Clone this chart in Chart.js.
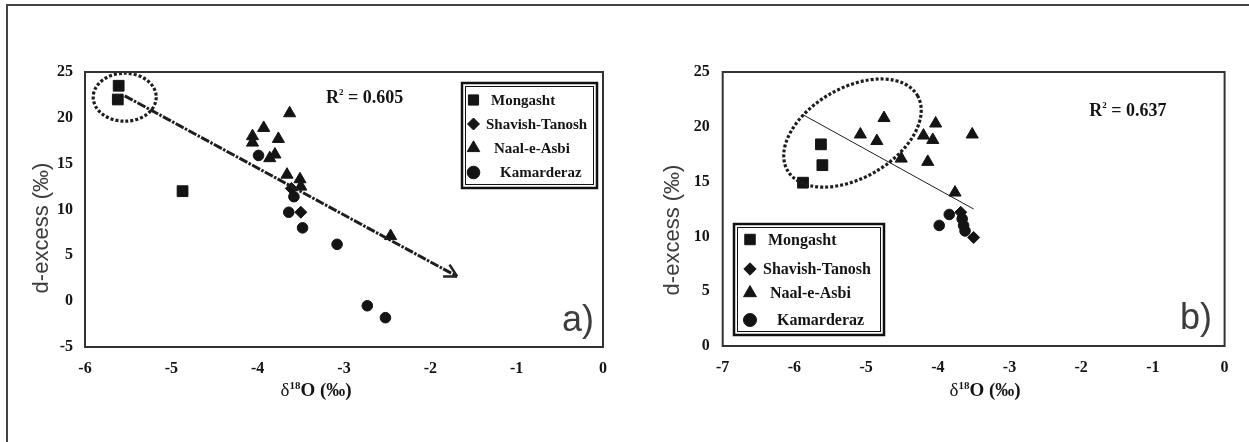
<!DOCTYPE html>
<html>
<head>
<meta charset="utf-8">
<script src="https://cdn.jsdelivr.net/npm/chart.js@4.4.1/dist/chart.umd.min.js"></script>
<style>
  html, body { margin: 0; padding: 0; background: #fff; }
  #wrap { position: relative; width: 1249px; height: 442px; overflow: hidden; background: #fff; }
  #frame { position: absolute; left: 6px; top: 4px; width: 1400px; height: 600px;
           border-top: 2px solid #444; border-left: 2px solid #444; }
  #ca { position: absolute; left: 0; top: 0; }
  #cb { position: absolute; left: 620px; top: 0; }
</style>
</head>
<body>
<div id="wrap">
  <div id="frame"></div>
  <canvas id="ca" width="620" height="442"></canvas>
  <canvas id="cb" width="629" height="442"></canvas>
</div>
<script>
// Sampling sites
const seriesNames = ['Mongasht', 'Shavish-Tanosh', 'Naal-e-Asbi', 'Kamarderaz'];

// Panel a) : d-excess against δ18O
const aMongashtX = [-5.61, -5.62, -4.87];
const aMongashtY = [23.5, 22.0, 12.0];
const aShavishX  = [-3.61, -3.50];
const aShavishY  = [12.3, 9.7];
const aNaalX     = [-3.63, -3.93, -4.06, -4.06, -3.76, -3.86, -3.80, -3.66, -3.51, -3.50, -2.46];
const aNaalY     = [20.5, 18.9, 18.0, 17.3, 17.7, 15.6, 16.0, 13.8, 13.3, 12.5, 7.1];
const aKamX      = [-3.99, -3.58, -3.64, -3.48, -3.08, -2.73, -2.52];
const aKamY      = [15.9, 11.4, 9.7, 8.0, 6.2, -0.5, -1.8];
const aTrendX    = [-5.54, -1.69];
const aTrendY    = [22.4, 2.7];
const aXTicks    = [-6, -5, -4, -3, -2, -1, 0];
const aYTicks    = [-5, 0, 5, 10, 15, 20, 25];
const aR2        = '0.605';
const aTag       = 'a)';

// Panel b) : d-excess against δ18O
const bMongashtX = [-5.63, -5.61, -5.88];
const bMongashtY = [18.4, 16.5, 14.9];
const bShavishX  = [-3.68, -3.50];
const bShavishY  = [12.2, 9.9];
const bNaalX     = [-5.08, -4.85, -4.75, -4.51, -4.20, -4.03, -4.07, -4.14, -3.52, -3.76];
const bNaalY     = [19.3, 18.7, 20.8, 17.1, 19.2, 20.3, 18.8, 16.8, 19.3, 14.0];
const bKamX      = [-3.98, -3.84, -3.66, -3.64, -3.62];
const bKamY      = [11.0, 12.0, 11.6, 11.0, 10.5];
const bTrendX    = [-5.88, -3.50];
const bTrendY    = [21.1, 12.5];
const bXTicks    = [-7, -6, -5, -4, -3, -2, -1, 0];
const bYTicks    = [0, 5, 10, 15, 20, 25];
const bR2        = '0.637';
const bTag       = 'b)';

const yTitle = 'd-excess (‰)';

const INK = '#141414';
const SERIF = '"Liberation Serif", "Times New Roman", serif';
const SANS = '"Liberation Sans", Arial, sans-serif';

function zip(xs, ys) { return xs.map((x, i) => ({ x: x, y: ys[i] })); }

const markerStyles = [
  { pointStyle: 'rect',     pointRadius: 7.6 },
  { pointStyle: 'rectRot',  pointRadius: 6 },
  { pointStyle: 'triangle', pointRadius: 7 },
  { pointStyle: 'circle',   pointRadius: 5.3 }
];

function drawMarker(ctx, style, radius, x, y) {
  ctx.fillStyle = INK; ctx.strokeStyle = INK;
  Chart.helpers.drawPoint(ctx, { pointStyle: style, radius: radius, rotation: 0, borderWidth: 1 }, x, y);
}

// Draws a run of text pieces (font, text, vertical shift) centred on cx
function drawRuns(ctx, runs, cx, baseY) {
  let w = 0;
  runs.forEach(r => { ctx.font = r.font; r.w = ctx.measureText(r.t).width; w += r.w; });
  let x = cx - w / 2;
  ctx.textAlign = 'left'; ctx.textBaseline = 'alphabetic';
  runs.forEach(r => { ctx.font = r.font; ctx.fillText(r.t, x, baseY + (r.dy || 0)); x += r.w; });
}

const decoPlugin = {
  id: 'deco',
  afterDraw(chart, args, o) {
    const ctx = chart.ctx, ca = chart.chartArea;
    const xs = chart.scales.x, ys = chart.scales.y;
    ctx.save();

    // trend arrowhead
    if (o.arrow) {
      const d = chart.data.datasets.find(ds => ds.isTrend).data;
      const x0 = xs.getPixelForValue(d[0].x), y0 = ys.getPixelForValue(d[0].y);
      const x1 = xs.getPixelForValue(d[1].x), y1 = ys.getPixelForValue(d[1].y);
      const ang = Math.atan2(y1 - y0, x1 - x0);
      ctx.beginPath();
      [-1, 1].forEach(s => {
        ctx.moveTo(x1, y1);
        ctx.lineTo(x1 - 14 * Math.cos(ang + s * 0.5), y1 - 14 * Math.sin(ang + s * 0.5));
      });
      ctx.lineWidth = 2.6; ctx.strokeStyle = '#222'; ctx.setLineDash([]); ctx.stroke();
    }

    // dotted grouping ellipse
    const e = o.ellipse;
    ctx.beginPath();
    ctx.ellipse(xs.getPixelForValue(e.x), ys.getPixelForValue(e.y), e.rx, e.ry,
                e.rot * Math.PI / 180, 0, Math.PI * 2);
    ctx.lineWidth = 3.2; ctx.setLineDash([3, 2]); ctx.strokeStyle = '#1e1e1e'; ctx.stroke();
    ctx.setLineDash([]);

    // plot frame
    ctx.lineWidth = 2; ctx.strokeStyle = '#333';
    ctx.strokeRect(ca.left, ca.top, ca.right - ca.left, ca.bottom - ca.top);

    // legend box
    const L = o.legend;
    ctx.fillStyle = '#fff';
    ctx.fillRect(L.x, L.y, L.w, L.h);
    ctx.lineWidth = 2.5; ctx.strokeStyle = '#111';
    ctx.strokeRect(L.x, L.y, L.w, L.h);
    ctx.lineWidth = 1;
    ctx.strokeRect(L.x + 3.5, L.y + 3.5, L.w - 7, L.h - 7);
    const items = chart.data.datasets.filter(ds => !ds.isTrend);
    items.forEach((ds, i) => {
      const row = L.rows[i];
      drawMarker(ctx, ds.pointStyle, L.markR[i], L.mx, row.y);
      ctx.fillStyle = INK;
      ctx.font = 'bold ' + L.font + 'px ' + SERIF;
      ctx.textAlign = 'left'; ctx.textBaseline = 'middle';
      ctx.fillText(ds.label, row.tx, row.y + 1);
    });

    // coefficient of determination
    ctx.fillStyle = INK;
    const rx = xs.getPixelForValue(o.r2.x), ry = ys.getPixelForValue(o.r2.y);
    drawRuns(ctx, [
      { t: 'R', font: 'bold 18px ' + SERIF },
      { t: '2', font: 'bold 9px ' + SERIF, dy: -8 },
      { t: ' = ' + o.r2.text, font: 'bold 18px ' + SERIF }
    ], rx, ry + 6);

    // panel tag
    ctx.fillStyle = '#3c3c3c';
    ctx.font = '36px ' + SANS;
    ctx.textAlign = 'right'; ctx.textBaseline = 'alphabetic';
    ctx.fillText(o.tag.text, o.tag.x, o.tag.y);

    // y axis title
    ctx.save();
    ctx.translate(o.yTitle.x, o.yTitle.y);
    ctx.rotate(-Math.PI / 2);
    ctx.fillStyle = '#3c3c3c';
    ctx.font = '22px ' + SANS;
    ctx.textAlign = 'center'; ctx.textBaseline = 'middle';
    ctx.fillText(yTitle, 0, 0);
    ctx.restore();

    // x axis title: δ18O (‰)
    ctx.fillStyle = INK;
    drawRuns(ctx, [
      { t: 'δ', font: '19px ' + SERIF },
      { t: '18', font: 'bold 11px ' + SERIF, dy: -7 },
      { t: 'O (‰)', font: 'bold 19px ' + SERIF }
    ], o.xTitle.x, o.xTitle.y + 6);

    ctx.restore();
  }
};

function panel(p) {
  const tickFont = { family: SERIF, weight: 'bold', size: 16 };
  const sets = [
    { label: 'trend', isTrend: true, data: zip(p.trendX, p.trendY), showLine: true,
      pointRadius: 0, borderColor: '#1e1e1e', borderWidth: p.trendWidth, borderDash: p.trendDash,
      fill: false },
    { label: seriesNames[0], data: zip(p.mX, p.mY) },
    { label: seriesNames[1], data: zip(p.sX, p.sY) },
    { label: seriesNames[2], data: zip(p.nX, p.nY) },
    { label: seriesNames[3], data: zip(p.kX, p.kY) }
  ];
  sets.slice(1).forEach((ds, i) => {
    Object.assign(ds, markerStyles[i], {
      backgroundColor: INK, borderColor: INK, borderWidth: 1, pointHoverRadius: markerStyles[i].pointRadius
    });
  });
  return {
    type: 'scatter',
    data: { datasets: sets },
    options: {
      responsive: false, animation: false, events: [],
      layout: { padding: { left: 0, top: p.top, right: p.right, bottom: 0 } },
      plugins: { legend: { display: false }, tooltip: { enabled: false }, deco: p.deco },
      scales: {
        x: {
          type: 'linear', min: p.xTicks[0], max: p.xTicks[p.xTicks.length - 1],
          afterBuildTicks: s => { s.ticks = p.xTicks.map(v => ({ value: v })); },
          afterFit: s => { s.height = p.xH; },
          grid: { display: false, drawTicks: false }, border: { display: false },
          ticks: { font: tickFont, color: INK, padding: 12, callback: v => String(v) }
        },
        y: {
          type: 'linear', min: p.yTicks[0], max: p.yTicks[p.yTicks.length - 1],
          afterBuildTicks: s => { s.ticks = p.yTicks.map(v => ({ value: v })); },
          afterFit: s => { s.width = p.yW; },
          grid: { display: false, drawTicks: false }, border: { display: false },
          ticks: { font: tickFont, color: INK, padding: p.yPad, callback: v => String(v) }
        }
      }
    },
    plugins: [decoPlugin]
  };
}

new Chart(document.getElementById('ca'), panel({
  mX: aMongashtX, mY: aMongashtY, sX: aShavishX, sY: aShavishY,
  nX: aNaalX, nY: aNaalY, kX: aKamX, kY: aKamY,
  trendX: aTrendX, trendY: aTrendY, trendWidth: 3, trendDash: [9, 1.5, 2.5, 1.5],
  xTicks: aXTicks, yTicks: aYTicks,
  top: 72, right: 17, yW: 85, xH: 95, yPad: 12,
  deco: {
    arrow: true,
    ellipse: { x: -5.54, y: 22.25, rx: 31.5, ry: 24, rot: 0 },
    legend: { x: 462, y: 83, w: 135, h: 105, font: 15, mx: 473.5,
              markR: [7.2, 6, 7.2, 6.3],
              rows: [{ y: 100, tx: 491 }, { y: 124, tx: 486 }, { y: 148, tx: 494 }, { y: 172.5, tx: 500 }] },
    r2: { x: -2.76, y: 22.3, text: aR2 },
    tag: { text: aTag, x: 594, y: 331 },
    yTitle: { x: 42, y: 228 },
    xTitle: { x: 316, y: 390 }
  }
}));

new Chart(document.getElementById('cb'), panel({
  mX: bMongashtX, mY: bMongashtY, sX: bShavishX, sY: bShavishY,
  nX: bNaalX, nY: bNaalY, kX: bKamX, kY: bKamY,
  trendX: bTrendX, trendY: bTrendY, trendWidth: 1, trendDash: [],
  xTicks: bXTicks, yTicks: bYTicks,
  top: 72, right: 24.4, yW: 102.7, xH: 96, yPad: 13,
  deco: {
    arrow: false,
    ellipse: { x: -5.19, y: 19.43, rx: 75, ry: 45, rot: -30 },
    legend: { x: 114, y: 224, w: 150, h: 111, font: 16, mx: 130,
              markR: [7.4, 6.2, 7.4, 6.5],
              rows: [{ y: 239.5, tx: 148 }, { y: 269, tx: 143 }, { y: 293, tx: 150 }, { y: 320, tx: 157 }] },
    r2: { x: -1.35, y: 21.5, text: bR2 },
    tag: { text: bTag, x: 592, y: 329 },
    yTitle: { x: 53, y: 230 },
    xTitle: { x: 365, y: 390 }
  }
}));
</script>
</body>
</html>
